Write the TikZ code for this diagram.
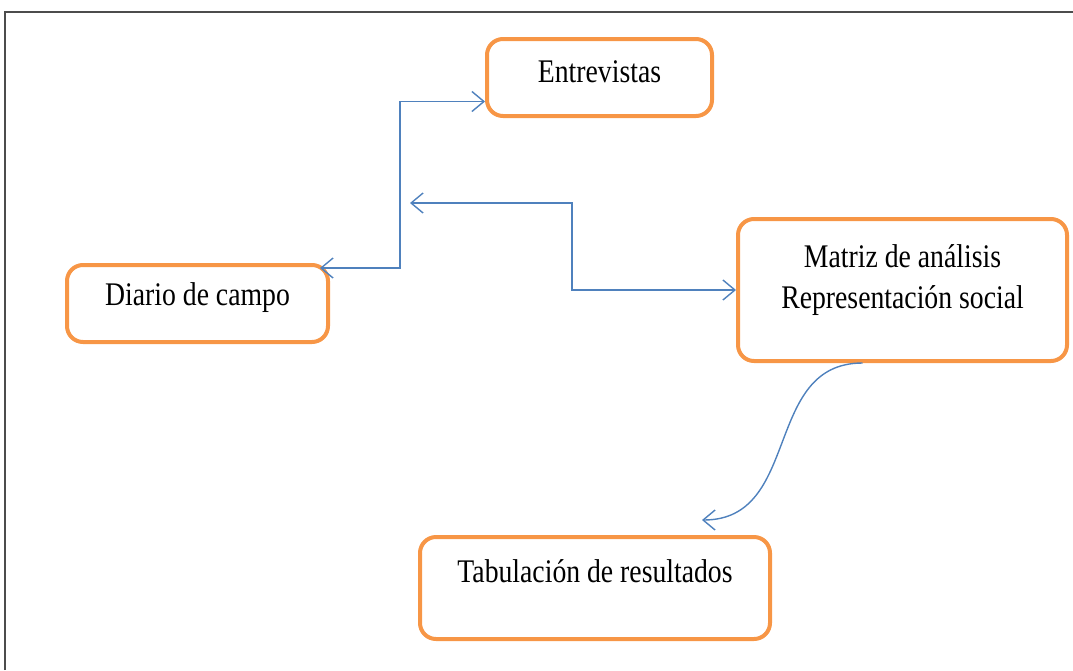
\documentclass[tikz,border=0pt]{standalone}
\usepackage{fontspec}
\setmainfont[FakeStretch=0.84]{Liberation Serif}
\usetikzlibrary{arrows.meta}
\definecolor{boxorange}{HTML}{F79646}
\definecolor{linkblue}{HTML}{4F81BD}
\begin{document}
\begin{tikzpicture}[x=1pt,y=-1pt,
    >={Straight Barb[length=12pt,width=20pt]},
    box/.style={draw=boxorange,line width=4pt,rounded corners=16pt,
        font=\fontsize{33}{41}\selectfont,align=center,text height=24pt},
    link/.style={draw=linkblue,line width=1.4pt}]
    \useasboundingbox (0,0) rectangle (1073,670);
    \draw[black!70,line width=1.2pt] (5,670) -- (5,12) -- (1073,12);
    \node[box,minimum width=225pt,minimum height=77pt,text depth=15pt] (entr) at (599.5,77.5) {Entrevistas};
    \node[box,minimum width=261pt,minimum height=77pt,text depth=21pt] (diario) at (197.5,303.5) {Diario de campo};
    \node[box,minimum width=329pt,minimum height=142pt,text height=36pt,text depth=0pt] (matriz) at (902.5,290) {Matriz de análisis\\Representación social};
    \node[box,minimum width=350pt,minimum height=102pt,text depth=36pt] (tab) at (595,588) {Tabulación de resultados};
    \coordinate (back) at (410,203);
    % conectores
    \draw[link,<->] ([shift={(-10pt,-5pt)}]diario.north east) -- ++(80,0) |- ([yshift=-24pt]entr.west);
    \draw[link,<->] (back) -- ++(162,0) |- (matriz.west);
    \draw[link,->] ([xshift=-40pt]matriz.south) .. controls +(-100,0) and +(100,0) .. ([shift={(107pt,15pt)}]tab.north);
\end{tikzpicture}
\end{document}
